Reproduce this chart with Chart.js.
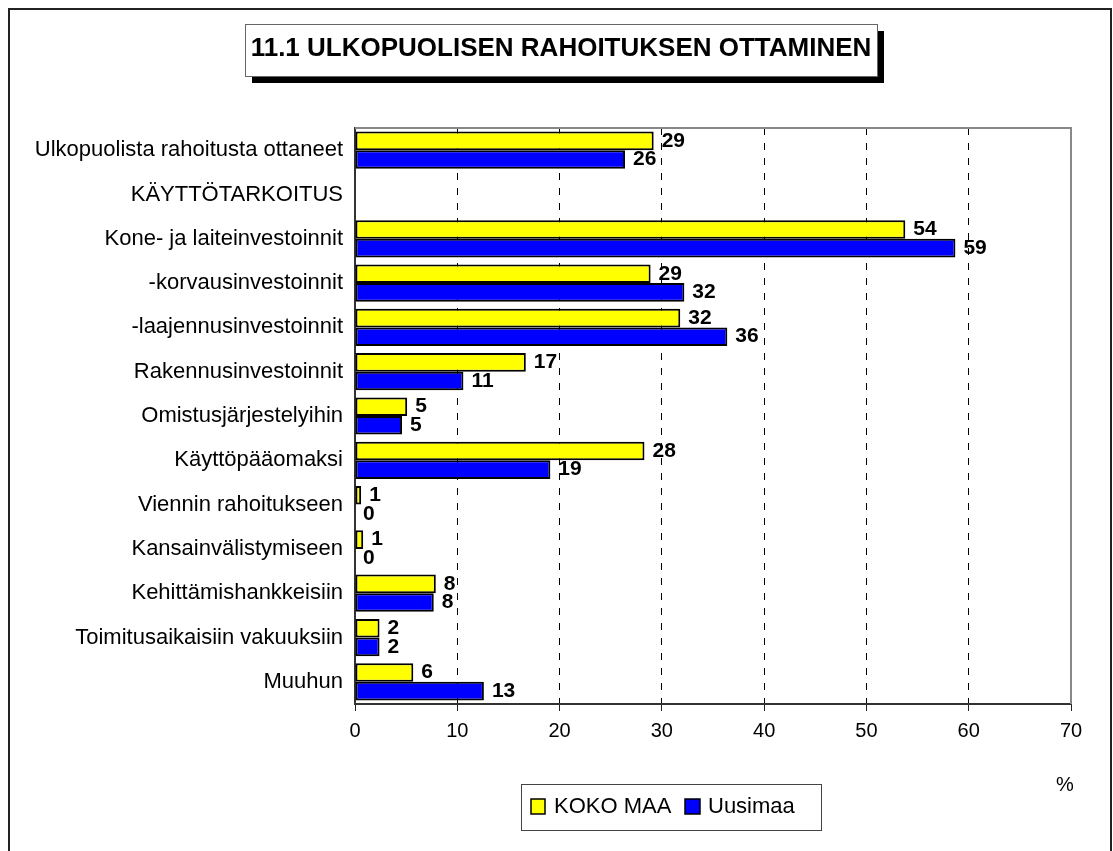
<!DOCTYPE html>
<html lang="fi">
<head>
  <meta charset="UTF-8" />
  <title>11.1 Ulkopuolisen rahoituksen ottaminen</title>
  <script src="https://cdn.jsdelivr.net/npm/chart.js"></script>
  <style>
    body {
      margin: 0;
      background: #fff;
    }
    canvas {
      display: block;
    }
  </style>
</head>
<body>
  <canvas id="myChart" width="1113" height="851"></canvas>

  <script>
    // ---------------------
    // 1) Data
    // ---------------------
    const kategoriat = [
      'Ulkopuolista rahoitusta ottaneet',
      'KÄYTTÖTARKOITUS',
      'Kone- ja laiteinvestoinnit',
      '-korvausinvestoinnit',
      '-laajennusinvestoinnit',
      'Rakennusinvestoinnit',
      'Omistusjärjestelyihin',
      'Käyttöpääomaksi',
      'Viennin rahoitukseen',
      'Kansainvälistymiseen',
      'Kehittämishankkeisiin',
      'Toimitusaikaisiin vakuuksiin',
      'Muuhun'
    ];

    const kokoMaa = [29.2, null, 53.8, 28.9, 31.8, 16.7, 5.1, 28.3, 0.6, 0.8, 7.9, 2.4, 5.7];
    const uusimaa = [26.4, null, 58.7, 32.2, 36.4, 10.6, 4.6, 19.1, 0, 0, 7.7, 2.4, 12.6];

    // numbers printed next to the bars
    const kokoMaaTekstit = ['29', '', '54', '29', '32', '17', '5', '28', '1', '1', '8', '2', '6'];
    const uusimaaTekstit = ['26', '', '59', '32', '36', '11', '5', '19', '0', '0', '8', '2', '13'];

    const xMin = 0;
    const xMax = 70;
    const xStep = 10;

    const otsikko = '11.1 ULKOPUOLISEN RAHOITUKSEN OTTAMINEN';
    const sarjat = ['KOKO MAA', 'Uusimaa'];
    const yksikko = '%';

    const FONT = '"Liberation Sans", Arial, sans-serif';
    const KELTAINEN = '#ffff00';
    const SININEN = '#0000ff';

    // ---------------------
    // 2) Plugins: frame, title box, plot border, value labels, legend
    // ---------------------
    const kehys = {
      id: 'kehys',
      beforeDraw(chart) {
        const c = chart.ctx;
        c.save();
        c.fillStyle = '#fff';
        c.fillRect(0, 0, chart.width, chart.height);
        c.strokeStyle = '#222';
        c.lineWidth = 2;
        c.strokeRect(9, 9, 1102, 900);

        // title box with shadow
        c.fillStyle = '#000';
        c.fillRect(252, 31, 632, 52);
        c.fillStyle = '#fff';
        c.fillRect(245, 24, 632, 52);
        c.strokeStyle = '#666';
        c.lineWidth = 1;
        c.strokeRect(245.5, 24.5, 632, 52);
        c.fillStyle = '#000';
        c.font = 'bold 26px ' + FONT;
        c.textAlign = 'center';
        c.textBaseline = 'middle';
        c.fillText(otsikko, 561, 49);
        c.restore();
      },
      beforeDatasetsDraw(chart) {
        const a = chart.chartArea;
        const c = chart.ctx;
        c.save();
        c.strokeStyle = '#888';
        c.lineWidth = 2;
        c.beginPath();
        c.moveTo(a.left, a.top);
        c.lineTo(a.right, a.top);
        c.lineTo(a.right, a.bottom);
        c.stroke();
        c.restore();
      },
      afterDatasetsDraw(chart) {
        const c = chart.ctx;
        const tekstit = [kokoMaaTekstit, uusimaaTekstit];
        c.save();
        c.fillStyle = '#000';
        c.font = 'bold 21px ' + FONT;
        c.textAlign = 'left';
        c.textBaseline = 'middle';
        chart.data.datasets.forEach((ds, di) => {
          chart.getDatasetMeta(di).data.forEach((bar, i) => {
            if (ds.data[i] === null) return;
            c.fillText(tekstit[di][i], bar.x + 8, bar.y);
          });
        });

        // legend
        c.strokeStyle = '#444';
        c.lineWidth = 1;
        c.strokeRect(521.5, 784.5, 300, 46);
        c.font = '22px ' + FONT;
        c.lineWidth = 1.5;
        c.fillStyle = KELTAINEN;
        c.fillRect(531, 799, 14, 15);
        c.strokeStyle = '#000';
        c.strokeRect(531, 799, 14, 15);
        c.fillStyle = '#000';
        c.fillText(sarjat[0], 554, 807);
        c.fillStyle = SININEN;
        c.fillRect(685, 799, 15, 15);
        c.strokeRect(685, 799, 15, 15);
        c.fillStyle = '#000';
        c.fillText(sarjat[1], 708, 807);

        // unit
        c.font = '20px ' + FONT;
        c.textAlign = 'center';
        c.fillText(yksikko, 1065, 785);
        c.restore();
      }
    };

    // ---------------------
    // 3) Chart
    // ---------------------
    const ctx = document.getElementById('myChart').getContext('2d');

    new Chart(ctx, {
      type: 'bar',
      data: {
        labels: kategoriat,
        datasets: [{
          label: sarjat[0],
          data: kokoMaa,
          backgroundColor: KELTAINEN,
          borderColor: '#000',
          borderWidth: 2,
          borderSkipped: false,
          barPercentage: 1.0,
          categoryPercentage: 0.84
        }, {
          label: sarjat[1],
          data: uusimaa,
          backgroundColor: SININEN,
          borderColor: '#000',
          borderWidth: 2,
          borderSkipped: false,
          barPercentage: 1.0,
          categoryPercentage: 0.84
        }]
      },
      options: {
        indexAxis: 'y',
        responsive: false,
        animation: false,
        layout: {
          padding: { top: 128, right: 42, left: 0, bottom: 0 }
        },
        scales: {
          x: {
            min: xMin,
            max: xMax,
            ticks: {
              stepSize: xStep,
              color: '#000',
              font: { family: FONT, size: 20 },
              padding: 8,
              maxRotation: 0
            },
            grid: {
              color: ctx => (ctx.tick && (ctx.tick.value === xMin || ctx.tick.value === xMax)) ? 'rgba(0,0,0,0)' : '#000',
              lineWidth: 1,
              drawTicks: true,
              tickLength: 7,
              tickColor: '#222',
              tickWidth: 1,
              tickBorderDash: []
            },
            border: {
              display: true,
              color: '#333',
              width: 2,
              dash: [7, 8]
            },
            afterFit(scale) {
              scale.height = 147;
            }
          },
          y: {
            ticks: {
              color: '#000',
              font: { family: FONT, size: 22 },
              padding: 12
            },
            grid: {
              display: false,
              drawTicks: false
            },
            border: {
              display: true,
              color: '#333',
              width: 2
            },
            afterFit(scale) {
              scale.width = 355;
            }
          }
        },
        plugins: {
          legend: { display: false },
          title: { display: false },
          tooltip: { enabled: false }
        }
      },
      plugins: [kehys]
    });
  </script>
</body>
</html>
